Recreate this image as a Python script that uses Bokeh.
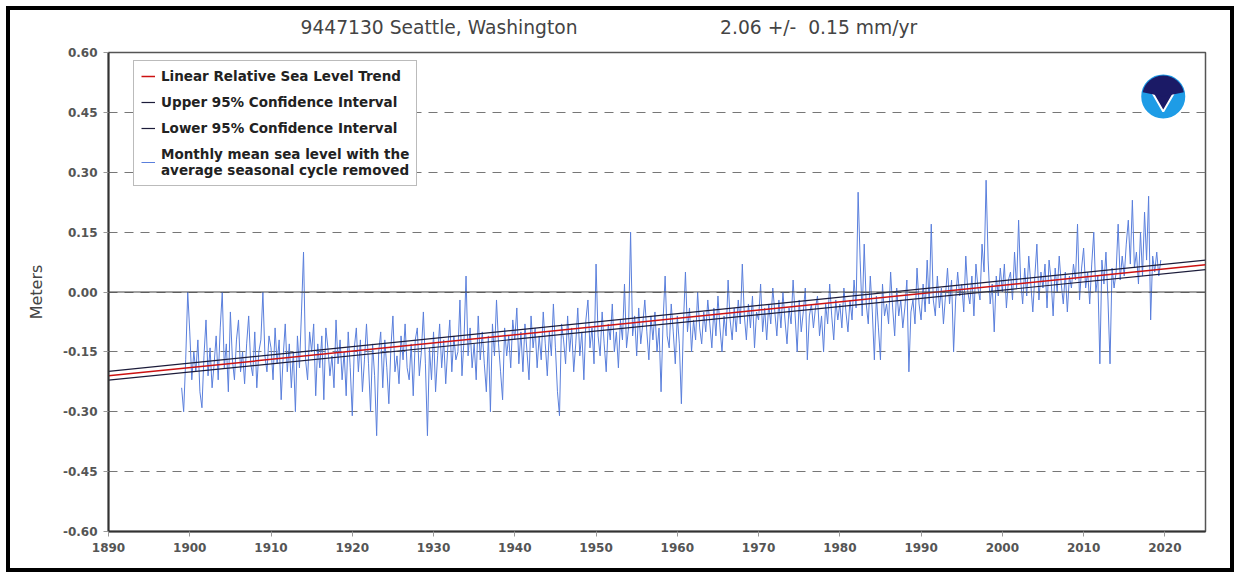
import numpy as np
from bokeh.plotting import figure
from bokeh.models import (Range1d, FixedTicker, Span, Legend, LegendItem,
                          NumeralTickFormatter, Title)
from bokeh.embed import file_html
from bokeh.resources import INLINE

# ---------------- data ----------------
station_title = "9447130 Seattle, Washington"
trend_text = "2.06 +/-  0.15 mm/yr"
y_label = "Meters"
y_ticks = [-0.60, -0.45, -0.30, -0.15, 0.00, 0.15, 0.30, 0.45, 0.60]
x_ticks = [1890, 1900, 1910, 1920, 1930, 1940, 1950, 1960, 1970, 1980, 1990, 2000, 2010, 2020]

trend_years = [1890, 2025]
trend_vals = [-0.210, 0.068]
upper_vals = [-0.199, 0.080]
lower_vals = [-0.221, 0.056]

msl_start_year = 1899.0
msl_step = 0.25  # years between samples
msl_1890s = [-0.24, -0.30, -0.17, 0.00]
msl_1900s = [-0.10, -0.22, -0.15, -0.20, -0.12, -0.25, -0.29, -0.16, -0.07, -0.21, -0.14, -0.24,
             -0.18, -0.11, -0.22, -0.09, 0.00, -0.19, -0.13, -0.25, -0.05, -0.17, -0.22, -0.12,
             -0.07, -0.20, -0.15, -0.23, -0.13, -0.06, -0.18, -0.21, -0.10, -0.24, -0.15, -0.12,
             0.00, -0.16, -0.20, -0.11]
msl_1910s = [-0.14, -0.22, -0.09, -0.18, -0.12, -0.27, -0.16, -0.08, -0.20, -0.13, -0.24, -0.15,
             -0.30, -0.11, -0.19, -0.05, 0.10, -0.17, -0.22, -0.10, -0.15, -0.08, -0.26, -0.13,
             -0.19, -0.11, -0.27, -0.09, -0.14, -0.21, -0.16, -0.24, -0.07, -0.18, -0.12, -0.22,
             -0.15, -0.26, -0.10, -0.19]
msl_1920s = [-0.31, -0.14, -0.09, -0.20, -0.12, -0.25, -0.17, -0.08, -0.18, -0.30, -0.13, -0.21,
             -0.36, -0.15, -0.10, -0.24, -0.12, -0.19, -0.28, -0.14, -0.06, -0.20, -0.16, -0.23,
             -0.11, -0.17, -0.08, -0.19, -0.22, -0.13, -0.26, -0.12, -0.09, -0.21, -0.15, -0.05,
             -0.18, -0.36, -0.14, -0.22]
msl_1930s = [-0.10, -0.25, -0.16, -0.08, -0.19, -0.12, -0.23, -0.14, -0.07, -0.20, -0.11, -0.17,
             -0.15, -0.02, -0.21, -0.12, 0.04, -0.16, -0.09, -0.19, -0.13, -0.22, -0.06, -0.17,
             -0.10, -0.18, -0.25, -0.11, -0.30, -0.08, -0.16, -0.02, -0.13, -0.20, -0.27, -0.09,
             -0.16, -0.11, -0.19, -0.07]
msl_1940s = [-0.12, -0.04, -0.18, -0.10, -0.20, -0.08, -0.15, -0.22, -0.06, -0.14, -0.09, -0.19,
             -0.11, -0.17, -0.05, -0.13, -0.21, -0.10, -0.16, -0.03, -0.14, -0.25, -0.31, -0.08,
             -0.12, -0.18, -0.06, -0.15, -0.09, -0.20, -0.13, -0.04, -0.16, -0.10, -0.22, -0.07,
             -0.02, -0.14, -0.09, -0.18]
msl_1950s = [0.07, -0.11, -0.16, -0.05, -0.13, -0.20, -0.08, -0.12, -0.03, -0.15, -0.10, -0.19,
             -0.07, -0.12, 0.02, -0.14, -0.09, 0.15, -0.11, -0.06, -0.16, -0.04, -0.13, -0.08,
             -0.02, -0.10, -0.17, -0.06, -0.12, -0.05, -0.15, -0.09, -0.25, -0.07, 0.04, -0.11,
             -0.14, -0.03, -0.10, -0.18]
msl_1960s = [-0.06, -0.13, -0.28, -0.08, 0.05, -0.10, -0.04, -0.15, -0.07, -0.12, 0.00, -0.09,
             -0.13, -0.05, -0.10, -0.02, -0.08, -0.14, -0.04, -0.11, -0.01, -0.09, -0.15, -0.06,
             -0.11, 0.03, -0.07, -0.12, -0.04, -0.10, -0.02, -0.08, 0.07, -0.06, -0.12, -0.03,
             -0.09, -0.01, -0.14, -0.05]
msl_1970s = [-0.07, 0.02, -0.10, -0.04, -0.12, -0.03, -0.08, 0.01, -0.05, -0.11, -0.02, -0.09,
             0.00, -0.07, -0.13, -0.04, -0.08, 0.03, -0.06, -0.15, -0.02, -0.10, -0.05, 0.01,
             -0.17, -0.06, -0.03, -0.09, -0.04, -0.01, -0.11, -0.06, -0.15, -0.03, -0.08, 0.02,
             -0.06, -0.12, -0.02, -0.07]
msl_1980s = [-0.03, -0.09, 0.01, -0.05, -0.10, -0.02, -0.07, 0.03, -0.04, 0.25, 0.08, -0.06,
             0.12, -0.03, -0.08, 0.04, -0.05, -0.17, -0.01, -0.09, -0.17, 0.02, -0.06, -0.03,
             -0.08, 0.05, -0.04, -0.11, 0.01, -0.06, -0.02, -0.09, -0.04, 0.03, -0.20, -0.05,
             -0.02, -0.08, 0.06, -0.03]
msl_1990s = [-0.07, 0.02, -0.05, 0.08, -0.03, 0.17, -0.02, -0.06, 0.04, -0.04, 0.01, -0.08,
             -0.01, 0.06, -0.03, 0.03, -0.15, -0.02, 0.05, -0.01, 0.02, -0.05, 0.09, 0.00,
             -0.03, 0.04, -0.06, 0.07, 0.01, -0.02, 0.12, 0.05, 0.28, 0.08, -0.03, 0.02,
             -0.10, 0.04, -0.01, 0.06]
msl_2000s = [0.00, 0.07, -0.04, 0.03, 0.05, -0.02, 0.10, 0.01, 0.18, 0.03, -0.03, 0.06,
             -0.01, 0.09, 0.02, -0.05, 0.04, 0.12, -0.02, 0.05, 0.01, 0.07, -0.04, 0.08,
             0.03, -0.06, 0.06, 0.00, 0.09, 0.02, -0.03, 0.05, -0.05, 0.04, 0.01, 0.07,
             0.03, 0.17, -0.02, 0.06]
msl_2010s = [0.11, 0.01, 0.05, -0.03, 0.07, 0.15, 0.00, 0.04, -0.18, 0.08, 0.02, 0.10,
             -0.02, -0.18, 0.06, 0.01, 0.05, 0.17, 0.03, 0.09, 0.04, 0.12, 0.18, 0.07,
             0.23, 0.06, 0.10, 0.02, 0.15, 0.04, 0.20, 0.08, 0.24, -0.07, 0.09, 0.05,
             0.10, 0.04, 0.08]

logo_x, logo_y = 2019.8, 0.49

# ---------------- figure ----------------
msl_vals = (msl_1890s + msl_1900s + msl_1910s + msl_1920s + msl_1930s + msl_1940s +
            msl_1950s + msl_1960s + msl_1970s + msl_1980s + msl_1990s + msl_2000s + msl_2010s)
msl_years = msl_start_year + np.arange(len(msl_vals)) * msl_step

gap = "\u00a0" * 24
title_text = station_title + gap + trend_text.replace("  ", " \u00a0")

p = figure(width=1228, height=566, output_backend="svg", toolbar_location=None,
           x_range=Range1d(1890, 2025), y_range=Range1d(-0.6, 0.6),
           min_border_left=98, min_border_top=42, min_border_right=33, min_border_bottom=45,
           title=title_text)
p.styles = {"border": "4px solid black", "margin-left": "6px", "margin-top": "6px"}
p.background_fill_color = "white"
p.border_fill_color = "white"
p.outline_line_color = "#555555"
p.outline_line_width = 1.5

p.title.align = "left"
p.title.offset = 192
p.title.standoff = 4
p.title.text_font = "DejaVu Sans"
p.title.text_font_size = "18.7px"
p.title.text_font_style = "normal"
p.title.text_color = "#444444"
# thin spacer between the title and the frame
p.add_layout(Title(text="\u00a0", text_font_size="1px", standoff=10), "above")

# grid
p.xgrid.grid_line_color = None
p.ygrid.ticker = FixedTicker(ticks=y_ticks)
p.ygrid.grid_line_color = "#777777"
p.ygrid.grid_line_dash = "9 7"
p.ygrid.grid_line_width = 1
p.add_layout(Span(location=0.0, dimension="width", line_color="#444444", line_width=1.2))

# axes
p.xaxis.ticker = FixedTicker(ticks=x_ticks)
p.yaxis.ticker = FixedTicker(ticks=y_ticks)
p.yaxis.formatter = NumeralTickFormatter(format="0.00")
for ax in (p.xaxis[0], p.yaxis[0]):
    ax.axis_line_color = "#333333"
    ax.axis_line_width = 2
    ax.major_tick_line_color = "#999999"
    ax.major_tick_out = 5
    ax.major_tick_in = 0
    ax.minor_tick_line_color = None
    ax.major_label_text_font = "DejaVu Sans"
    ax.major_label_text_font_size = "12px"
    ax.major_label_text_font_style = "bold"
    ax.major_label_text_color = "#555555"
    ax.major_label_standoff = 6
p.yaxis.axis_label = y_label
p.yaxis.axis_label_text_font = "DejaVu Sans"
p.yaxis.axis_label_text_font_size = "16px"
p.yaxis.axis_label_text_font_style = "normal"
p.yaxis.axis_label_text_color = "#444444"
p.yaxis.axis_label_standoff = 14

# data
r_msl = p.line(msl_years, msl_vals, line_color="#5a7fdc", line_width=1)
r_up = p.line(trend_years, upper_vals, line_color="#1c1c3a", line_width=1.2)
r_lo = p.line(trend_years, lower_vals, line_color="#1c1c3a", line_width=1.2)
r_tr = p.line(trend_years, trend_vals, line_color="#cc1111", line_width=1.5)

legend = Legend(items=[
    LegendItem(label="Linear Relative Sea Level Trend", renderers=[r_tr]),
    LegendItem(label="Upper 95% Confidence Interval", renderers=[r_up]),
    LegendItem(label="Lower 95% Confidence Interval", renderers=[r_lo]),
    LegendItem(label="Monthly mean sea level with the\naverage seasonal cycle removed", renderers=[r_msl]),
], location=(25, 345))
legend.label_text_font = "DejaVu Sans"
legend.label_text_font_size = "13.5px"
legend.label_text_font_style = "bold"
legend.label_text_color = "#222222"
legend.label_text_line_height = 1.55
legend.glyph_width = 14
legend.glyph_height = 16
legend.label_standoff = 6
legend.spacing = 10
legend.padding = 7
legend.border_line_color = "#777777"
legend.border_line_width = 1.5
legend.background_fill_color = "white"
legend.background_fill_alpha = 1
p.add_layout(legend)

# NOAA-style logo
p.scatter([logo_x], [logo_y], marker="circle", size=46, fill_color="#1e9ce6",
          line_color="white", line_width=2)
p.scatter([logo_x], [logo_y], marker="inverted_triangle", size=26, fill_color="#1b1a66",
          line_color="white", line_width=2)
p.wedge([logo_x], [logo_y], radius=21, radius_units="screen", start_angle=0.2,
        end_angle=np.pi - 0.2, fill_color="#1b1a66", line_color=None)

open("out.html", "w").write(file_html(p, INLINE))
